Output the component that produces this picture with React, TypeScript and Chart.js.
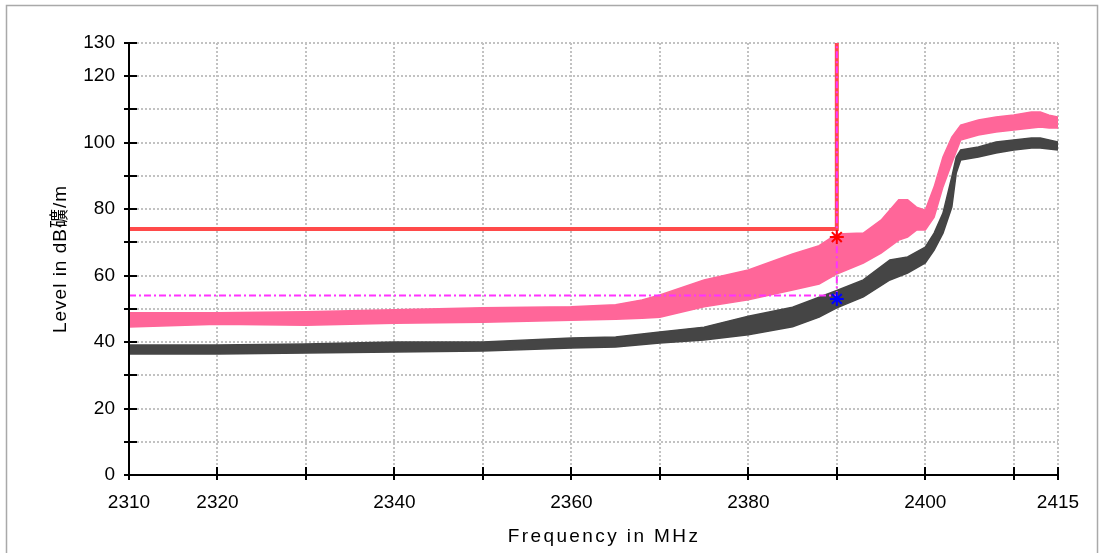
import React, { useEffect, useRef } from "react";
import { Chart, registerables } from "chart.js";

Chart.register(...registerables);

// Peak trace (pink): upper and lower edge of the noisy band
const pinkFreq = [2310, 2320, 2330, 2340, 2350, 2360, 2365, 2368, 2370, 2375, 2380, 2385, 2388, 2390, 2393, 2395, 2397, 2398, 2399, 2400, 2401, 2402, 2403, 2404, 2406, 2408, 2410, 2412, 2413, 2414, 2415];
const pinkHigh = [48.8, 48.8, 49.1, 49.7, 50.3, 50.6, 51.2, 52.7, 54.2, 58.7, 61.7, 66.5, 69.0, 72.5, 72.8, 76.7, 82.8, 82.8, 80.6, 79.7, 86.7, 95.7, 101.7, 105.3, 106.8, 107.7, 108.3, 109.2, 109.2, 108.3, 107.7];
const pinkLow = [44.5, 45.4, 45.1, 45.7, 46.0, 46.6, 46.9, 47.2, 47.5, 50.6, 52.7, 55.7, 57.5, 60.5, 63.8, 66.8, 70.7, 71.6, 73.7, 73.7, 77.6, 86.7, 93.9, 100.8, 102.3, 103.2, 103.8, 104.4, 104.7, 104.4, 104.4];

// Average trace (dark grey)
const grayFreq = [2310, 2320, 2330, 2340, 2350, 2360, 2365, 2370, 2375, 2380, 2385, 2388, 2390, 2393, 2396, 2398, 2400, 2401, 2402, 2403, 2403.5, 2404, 2406, 2408, 2410, 2412, 2413, 2415];
const grayHigh = [39.1, 39.1, 39.4, 40.0, 40.0, 41.2, 41.5, 43.0, 44.5, 47.8, 50.5, 53.5, 55.5, 58.7, 64.7, 65.6, 68.6, 72.8, 78.8, 89.7, 95.7, 97.8, 98.7, 100.2, 100.8, 101.4, 101.4, 100.2];
const grayLow = [36.4, 36.4, 36.7, 37.0, 37.3, 38.2, 38.5, 39.7, 40.6, 42.2, 44.6, 47.5, 50.3, 53.6, 58.7, 60.8, 63.8, 67.7, 72.8, 80.6, 90.9, 94.8, 95.7, 96.9, 97.8, 98.4, 98.4, 97.8];

// Axes
const yTickLabels = [0, 20, 40, 60, 80, 100, 120, 130];
const xTickLabels = [2310, 2320, 2340, 2360, 2380, 2400, 2415];
const yGridValues = [0, 10, 20, 30, 40, 50, 60, 70, 80, 90, 100, 110, 120, 130];
const xGridValues = [2310, 2320, 2330, 2340, 2350, 2360, 2370, 2380, 2390, 2400, 2410, 2415];
const xRange = [2310, 2415];
const yRange = [0, 130];

// Limit lines and markers
const limitLevel = 74;
const displayLevel = 54;
const markerFreq = 2390;
const peakMarker = 71.6;
const avgMarker = 53.0;

const xTitle = "Frequency in MHz";
const yTitle = "Level in dB礦/m";

const FONT = "'Liberation Sans', 'Noto Sans CJK KR', sans-serif";

const framePlugin = {
  id: "framePlugin",
  beforeDatasetsDraw(chart: any) {
    const { ctx, chartArea, scales } = chart;
    const xs = scales.x;
    const ys = scales.y;
    ctx.save();
    ctx.strokeStyle = "#c2c2c2";
    ctx.lineWidth = 2;
    ctx.setLineDash([2, 2]);
    yGridValues.forEach((v) => {
      if (v === 0) return;
      const y = Math.round(ys.getPixelForValue(v));
      ctx.beginPath();
      ctx.moveTo(chartArea.left, y);
      ctx.lineTo(chartArea.right, y);
      ctx.stroke();
    });
    xGridValues.forEach((v) => {
      if (v === xRange[0]) return;
      const x = Math.round(xs.getPixelForValue(v));
      ctx.beginPath();
      ctx.moveTo(x, chartArea.top);
      ctx.lineTo(x, chartArea.bottom);
      ctx.stroke();
    });
    ctx.restore();
  },
  afterDatasetsDraw(chart: any) {
    const { ctx, chartArea, scales } = chart;
    const xs = scales.x;
    const ys = scales.y;
    ctx.save();
    ctx.strokeStyle = "#000";
    ctx.lineWidth = 2;
    ctx.setLineDash([]);
    ctx.beginPath();
    ctx.moveTo(chartArea.left, chartArea.top);
    ctx.lineTo(chartArea.left, chartArea.bottom);
    ctx.lineTo(chartArea.right, chartArea.bottom);
    ctx.stroke();
    yGridValues.forEach((v) => {
      const y = Math.round(ys.getPixelForValue(v));
      ctx.beginPath();
      ctx.moveTo(chartArea.left - 5, y);
      ctx.lineTo(chartArea.left + 8, y);
      ctx.stroke();
    });
    xGridValues.forEach((v) => {
      const x = Math.round(xs.getPixelForValue(v));
      ctx.beginPath();
      ctx.moveTo(x, chartArea.bottom - 8);
      ctx.lineTo(x, chartArea.bottom + 5);
      ctx.stroke();
    });
    ctx.restore();
  },
  afterDraw(chart: any) {
    const { ctx } = chart;
    ctx.save();
    // outer frame
    ctx.strokeStyle = "#a9a9a9";
    ctx.lineWidth = 1.5;
    ctx.strokeRect(6.5, 5.5, 1091, 600);
    // titles
    ctx.fillStyle = "#000";
    ctx.font = `19px ${FONT}`;
    (ctx as any).letterSpacing = "2.4px";
    ctx.textAlign = "center";
    ctx.textBaseline = "alphabetic";
    ctx.fillText(xTitle, 604, 542);
    (ctx as any).letterSpacing = "1px";
    ctx.translate(66, 259);
    ctx.rotate(-Math.PI / 2);
    ctx.fillText(yTitle, 0, 0);
    ctx.restore();
  },
};

export default function App() {
  const ref = useRef<HTMLCanvasElement | null>(null);
  useEffect(() => {
    if (!ref.current) return;
    const pts = (xs: number[], ys: number[]) => xs.map((x, i) => ({ x, y: ys[i] }));
    const chart = new Chart(ref.current, {
      type: "line",
      data: {
        datasets: [
          {
            label: "peak-high",
            data: pts(pinkFreq, pinkHigh),
            borderColor: "#ff6699",
            backgroundColor: "#ff6699",
            borderWidth: 1.5,
            pointRadius: 0,
            fill: "+1",
            order: 3,
          },
          {
            label: "peak-low",
            data: pts(pinkFreq, pinkLow),
            borderColor: "#ff6699",
            borderWidth: 1.5,
            pointRadius: 0,
            fill: false,
            order: 3,
          },
          {
            label: "avg-high",
            data: pts(grayFreq, grayHigh),
            borderColor: "#454545",
            backgroundColor: "#454545",
            borderWidth: 1.5,
            pointRadius: 0,
            fill: "+1",
            order: 3,
          },
          {
            label: "avg-low",
            data: pts(grayFreq, grayLow),
            borderColor: "#454545",
            borderWidth: 1.5,
            pointRadius: 0,
            fill: false,
            order: 3,
          },
          {
            label: "limit",
            data: [
              { x: xRange[0], y: limitLevel },
              { x: markerFreq, y: limitLevel },
              { x: markerFreq, y: yRange[1] },
            ],
            borderColor: "#ff4a4a",
            borderWidth: 4,
            pointRadius: 0,
            fill: false,
            order: 2,
          },
          {
            label: "display",
            data: [
              { x: xRange[0], y: displayLevel },
              { x: markerFreq, y: displayLevel },
              { x: markerFreq, y: yRange[1] },
            ],
            borderColor: "#ff33ff",
            borderWidth: 2,
            borderDash: [7, 3, 2, 3],
            pointRadius: 0,
            fill: false,
            order: 1,
          },
          {
            label: "peak-marker",
            data: [{ x: markerFreq, y: peakMarker }],
            showLine: false,
            pointStyle: "star",
            pointRadius: 7,
            pointBorderColor: "#ff0000",
            pointBorderWidth: 2,
            order: 0,
          },
          {
            label: "avg-marker",
            data: [{ x: markerFreq, y: avgMarker }],
            showLine: false,
            pointStyle: "star",
            pointRadius: 7,
            pointBorderColor: "#0000ff",
            pointBorderWidth: 2,
            order: 0,
          },
        ],
      },
      options: {
        responsive: false,
        animation: false,
        events: [],
        layout: { padding: { left: 0, top: 43, right: 43, bottom: 0 } },
        elements: { line: { tension: 0 } },
        plugins: {
          legend: { display: false },
          tooltip: { enabled: false },
          title: { display: false },
        },
        scales: {
          x: {
            type: "linear",
            min: xRange[0],
            max: xRange[1],
            grid: { display: false, drawTicks: false },
            border: { display: false },
            afterBuildTicks: (s: any) => {
              s.ticks = xTickLabels.map((v) => ({ value: v }));
            },
            afterFit: (s: any) => {
              s.height = 78;
            },
            ticks: {
              color: "#000",
              font: { family: FONT, size: 19 },
              padding: 16,
              maxRotation: 0,
              autoSkip: false,
              callback: (v: any) => String(v),
            },
          },
          y: {
            type: "linear",
            min: yRange[0],
            max: yRange[1],
            grid: { display: false, drawTicks: false },
            border: { display: false },
            afterBuildTicks: (s: any) => {
              s.ticks = yTickLabels.map((v) => ({ value: v }));
            },
            afterFit: (s: any) => {
              s.width = 129;
            },
            ticks: {
              color: "#000",
              font: { family: FONT, size: 19 },
              padding: 14,
              autoSkip: false,
              callback: (v: any) => String(v),
            },
          },
        },
      },
      plugins: [framePlugin],
    });
    return () => chart.destroy();
  }, []);
  return (
    <canvas
      ref={ref}
      width={1101}
      height={553}
      style={{ position: "fixed", left: 0, top: 0, width: 1101, height: 553, background: "#fff" }}
    />
  );
}
